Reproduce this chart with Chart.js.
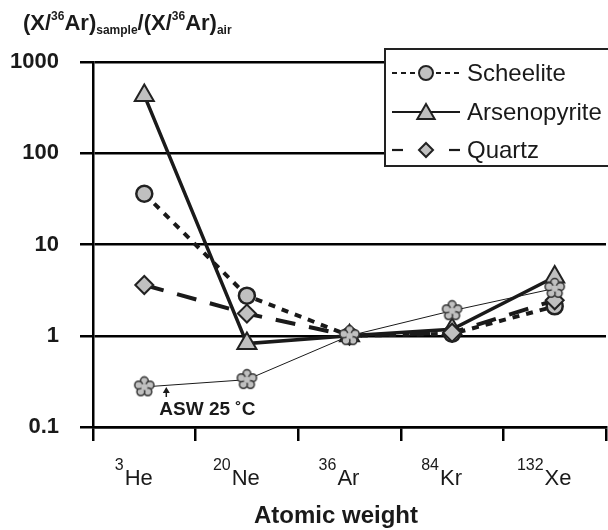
<!DOCTYPE html>
<html>
<head>
<meta charset="utf-8">
<script src="https://cdn.jsdelivr.net/npm/chart.js@4.4.0/dist/chart.umd.min.js"></script>
<style>
  html, body { margin: 0; padding: 0; background: #fff; }
</style>
</head>
<body>
<canvas id="myChart" width="608" height="530"></canvas>
<script>
// x axis: isotopes (mass number + element)
const masses = ['3', '20', '36', '84', '132'];
const elements = ['He', 'Ne', 'Ar', 'Kr', 'Xe'];
const yTicks = [0.1, 1, 10, 100, 1000];

// (X/36Ar)sample / (X/36Ar)air
const scheelite = [36, 2.75, 1, 1.05, 2.1];
const arsenopyrite = [430, 0.82, 1, 1.18, 4.4];
const quartz = [3.6, 1.75, 1, 1.08, 2.45];
const asw = [0.275, 0.33, 1, 1.88, 3.3];   // air saturated water, 25 C

const legendNames = ['Scheelite', 'Arsenopyrite', 'Quartz'];

const FONT = "'Liberation Sans', Arial, Helvetica, sans-serif";
const ink = '#1a1a1a';
const gray = '#c0c0c0';

// five petal marker for the ASW series
function makeFlower(size) {
    const c = document.createElement('canvas');
    c.width = c.height = size;
    const g = c.getContext('2d');
    const cx = size / 2, cy = size / 2;
    const d = size * 0.26, r = size * 0.17;
    g.fillStyle = gray;
    g.strokeStyle = '#333';
    g.lineWidth = 1.5;
    for (let k = 0; k < 5; k++) {
        const a = -Math.PI / 2 + k * 2 * Math.PI / 5;
        g.beginPath();
        g.arc(cx + d * Math.cos(a), cy + d * Math.sin(a), r, 0, 2 * Math.PI);
        g.fill();
        g.stroke();
    }
    g.beginPath();
    g.arc(cx, cy, size * 0.14, 0, 2 * Math.PI);
    g.fill();
    return c;
}
const flower = makeFlower(23);

function drawMarker(ctx, style, x, y, r) {
    ctx.beginPath();
    if (style === 'circle') {
        ctx.arc(x, y, r, 0, 2 * Math.PI);
    } else if (style === 'triangle') {
        ctx.moveTo(x, y - r);
        ctx.lineTo(x + r * 0.866, y + r / 2);
        ctx.lineTo(x - r * 0.866, y + r / 2);
        ctx.closePath();
    } else {
        ctx.moveTo(x, y - r);
        ctx.lineTo(x + r, y);
        ctx.lineTo(x, y + r);
        ctx.lineTo(x - r, y);
        ctx.closePath();
    }
    ctx.fillStyle = gray;
    ctx.fill();
    ctx.lineWidth = 2;
    ctx.strokeStyle = '#222';
    ctx.stroke();
}

const overlay = {
    id: 'overlay',
    afterDraw(chart) {
        const ctx = chart.ctx;
        const xs = chart.scales.x;
        const ys = chart.scales.y;
        ctx.save();
        ctx.fillStyle = ink;
        ctx.textAlign = 'left';
        ctx.textBaseline = 'alphabetic';

        // y axis title with super/subscripts
        const parts = [['(X/', 22, 0], ['36', 12, -10], ['Ar)', 22, 0], ['sample', 12, 4],
                       ['/(X/', 22, 0], ['36', 12, -10], ['Ar)', 22, 0], ['air', 12, 4]];
        let tx = 23;
        parts.forEach(([t, s, dy]) => {
            ctx.font = `bold ${s}px ${FONT}`;
            ctx.fillText(t, tx, 30 + dy);
            tx += ctx.measureText(t).width;
        });

        // x tick labels
        elements.forEach((el, i) => {
            const cx = xs.getPixelForValue(i) - 11;
            ctx.font = `16px ${FONT}`;
            const ws = ctx.measureText(masses[i]).width;
            ctx.font = `22px ${FONT}`;
            const we = ctx.measureText(el).width;
            const x0 = cx - (ws + we) / 2;
            ctx.font = `16px ${FONT}`;
            ctx.fillText(masses[i], x0, 470);
            ctx.font = `22px ${FONT}`;
            ctx.fillText(el, x0 + ws + 1, 485);
        });

        // x axis title
        ctx.font = `bold 24px ${FONT}`;
        ctx.textAlign = 'center';
        ctx.fillText('Atomic weight', 336, 523);

        // ASW annotation + arrow
        const ax = xs.getPixelForValue(0);
        const ay = ys.getPixelForValue(0.1);
        ctx.textAlign = 'left';
        ctx.font = `bold 19px ${FONT}`;
        ctx.fillText('ASW 25 \u02DAC', ax + 15, ay - 12);
        ctx.strokeStyle = ink;
        ctx.lineWidth = 1.5;
        ctx.beginPath();
        ctx.moveTo(ax + 22, ay - 30);
        ctx.lineTo(ax + 22, ay - 38);
        ctx.stroke();
        ctx.beginPath();
        ctx.moveTo(ax + 22, ay - 40);
        ctx.lineTo(ax + 18.5, ay - 34);
        ctx.lineTo(ax + 25.5, ay - 34);
        ctx.closePath();
        ctx.fill();

        // legend box
        ctx.fillStyle = '#fff';
        ctx.fillRect(385, 49, 230, 117);
        ctx.strokeStyle = '#222';
        ctx.lineWidth = 2;
        ctx.strokeRect(385, 49, 230, 117);
        const rowY = [73, 112, 150];
        legendNames.forEach((name, i) => {
            const ds = chart.data.datasets.find(d => d.label === name);
            const y = rowY[i];
            ctx.strokeStyle = ink;
            ctx.lineWidth = 2.2;
            if (name === 'Scheelite') {
                ctx.setLineDash([5, 4]);
                ctx.beginPath(); ctx.moveTo(392, y); ctx.lineTo(418, y); ctx.stroke();
                ctx.beginPath(); ctx.moveTo(436, y); ctx.lineTo(460, y); ctx.stroke();
            } else if (name === 'Quartz') {
                ctx.setLineDash([]);
                ctx.beginPath(); ctx.moveTo(392, y); ctx.lineTo(403, y); ctx.stroke();
                ctx.beginPath(); ctx.moveTo(449, y); ctx.lineTo(460, y); ctx.stroke();
            } else {
                ctx.setLineDash([]);
                ctx.beginPath(); ctx.moveTo(392, y); ctx.lineTo(460, y); ctx.stroke();
            }
            ctx.setLineDash([]);
            const r = ds.pointStyle === 'triangle' ? 10 : 7;
            drawMarker(ctx, ds.pointStyle, 426, y + (ds.pointStyle === 'triangle' ? 2 : 0), r);
            ctx.fillStyle = ink;
            ctx.font = `24px ${FONT}`;
            ctx.textBaseline = 'middle';
            ctx.fillText(name, 467, y + 1);
            ctx.textBaseline = 'alphabetic';
        });
        ctx.restore();
    }
};

const ctx = document.getElementById('myChart');
new Chart(ctx, {
    type: 'line',
    data: {
        labels: elements,
        datasets: [
            {
                label: 'ASW',
                data: asw,
                borderColor: ink,
                borderWidth: 1,
                pointStyle: flower,
                pointRadius: 10
            },
            {
                label: 'Quartz',
                data: quartz,
                borderColor: ink,
                borderWidth: 4,
                borderDash: [20, 14],
                pointStyle: 'rectRot',
                pointRadius: 9,
                pointBackgroundColor: gray,
                pointBorderColor: '#222',
                pointBorderWidth: 2
            },
            {
                label: 'Arsenopyrite',
                data: arsenopyrite,
                borderColor: ink,
                borderWidth: 3.5,
                pointStyle: 'triangle',
                pointRadius: 11,
                pointBackgroundColor: gray,
                pointBorderColor: '#222',
                pointBorderWidth: 2
            },
            {
                label: 'Scheelite',
                data: scheelite,
                borderColor: ink,
                borderWidth: 4,
                borderDash: [7, 7],
                pointStyle: 'circle',
                pointRadius: 8,
                pointBackgroundColor: gray,
                pointBorderColor: '#222',
                pointBorderWidth: 2.5
            }
        ]
    },
    options: {
        responsive: false,
        animation: false,
        layout: { autoPadding: false, padding: { top: 62, right: 2, left: 0, bottom: 0 } },
        elements: { line: { tension: 0 } },
        plugins: {
            legend: { display: false },
            tooltip: { enabled: false }
        },
        scales: {
            x: {
                type: 'category',
                offset: true,
                grid: {
                    display: true,
                    offset: true,
                    drawOnChartArea: false,
                    drawTicks: true,
                    tickLength: 14,
                    color: '#000',
                    lineWidth: 2.5
                },
                border: { display: true, color: '#000', width: 2.5 },
                ticks: { display: false },
                afterFit: s => { s.height = 103; }
            },
            y: {
                type: 'logarithmic',
                min: 0.1,
                max: 1000,
                afterBuildTicks: s => { s.ticks = yTicks.map(v => ({ value: v })); },
                ticks: {
                    callback: v => String(v),
                    autoSkip: false,
                    padding: 21,
                    color: ink,
                    font: { family: FONT, size: 22, weight: 'bold' }
                },
                grid: {
                    color: '#000',
                    lineWidth: 2.5,
                    drawTicks: true,
                    tickLength: 13
                },
                border: { display: true, color: '#000', width: 2.5 },
                afterFit: s => { s.width = 93; }
            }
        }
    },
    plugins: [overlay]
});
</script>
</body>
</html>
